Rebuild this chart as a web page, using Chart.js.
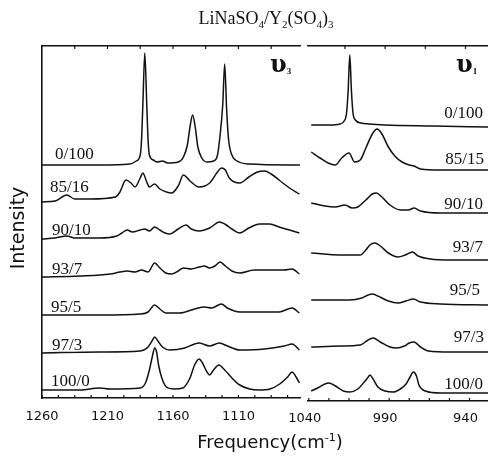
<!DOCTYPE html>
<html><head><meta charset="utf-8">
<script src="https://cdn.jsdelivr.net/npm/chart.js@4"></script>
<style>
html,body{margin:0;padding:0;background:#fff;width:488px;height:465px;overflow:hidden}
canvas{position:absolute;left:0;top:0}
</style>
</head><body>
<canvas id="a" width="488" height="465"></canvas>
<canvas id="b" width="488" height="465"></canvas>
<script>
// ---------- DATA ----------
const labelsV3 = ['0/100','85/16','90/10','93/7','95/5','97/3','100/0'];
const labelsV1 = ['0/100','85/15','90/10','93/7','95/5','97/3','100/0'];
const ticksV3 = [1260,1210,1160,1110];
const ticksV1 = [1040,990,940];
// stacking offsets of each spectrum (intensity units)
const offsetsV3 = [233,196,159,121,83,45,8];
const offsetsV1 = [276,231,188,141,96,49,8];
// [frequency cm-1, intensity above its own baseline]
const v3_0_100 = [[1260,0],[1216,0],[1193,1],[1188,4],[1185,10],[1184,25],[1183,60],[1181.5,112],[1180,60],[1179,25],[1178,10],[1175,5],[1172,3],[1168,4],[1164,2],[1156,3],[1152,8],[1149,20],[1147,38],[1145,50],[1143,38],[1141,18],[1138,7],[1134,3],[1129,4],[1126,10],[1124,30],[1122,60],[1120.5,101],[1119,55],[1117.5,25],[1115,10],[1111,4],[1102,1],[1063,0]];
const v3_85_16 = [[1260,0],[1250,1],[1241,7],[1235,3],[1223,3],[1204,5],[1200.5,10],[1196,22],[1192,19],[1189,15],[1185,24],[1183,29],[1180,20],[1178,15],[1174,18],[1170,13],[1165,10],[1161,9],[1156,16],[1152,27],[1147,21],[1140,15],[1132,19],[1126,30],[1123,34],[1120,32],[1117,24],[1109,19],[1102,25],[1095.5,30],[1090,31],[1085,28],[1079,22],[1071,14],[1063.5,8]];
const v3_90_10 = [[1260,0],[1250,1],[1241,3],[1235,1],[1216,1],[1203,3],[1199,6],[1195,9],[1191,7],[1185,9],[1181.5,10],[1178,8],[1174,12],[1170,9],[1166,6],[1162.5,5],[1156,10],[1150,14],[1146,10],[1140,8],[1132,11],[1124.5,17],[1120.5,15],[1115,10],[1109,6],[1102,11],[1094,15],[1086,15],[1079,12],[1071,9],[1063.5,6]];
const v3_93_7 = [[1260,0],[1231,1],[1208,3],[1200.5,5],[1195,6],[1189,5],[1184,7],[1179,5],[1174,14],[1170,9],[1165.5,4],[1161,3],[1156,6],[1152,9],[1146,8],[1140,10],[1136,11],[1132,9],[1128,11],[1124,15],[1120,11],[1115,6],[1109,4],[1098,7],[1086,7],[1075,7],[1069,8],[1063.5,3]];
const v3_95_5 = [[1260,0],[1216,0],[1185,1],[1179,3],[1174,10],[1170,6],[1165.5,2],[1155,2],[1143.5,6],[1136,8],[1130.5,7],[1123,11],[1118.5,7],[1109,3],[1094,3],[1079,3],[1069,7],[1063.5,2]];
const v3_97_3 = [[1260,0],[1216,1],[1185,2],[1179,6],[1176,12],[1174,16],[1171.5,12],[1168,6],[1162.5,3],[1151,5],[1143.5,9],[1140,10],[1132,7],[1124.5,10],[1118.5,7],[1109,3],[1090,4],[1075,7],[1069,9],[1063.5,3]];
const v3_100_0 = [[1260,0],[1231,0],[1216,2],[1208,1],[1185,2],[1181,7],[1178,20],[1175.5,35],[1174,42],[1172.5,38],[1171,25],[1168.5,12],[1165,3],[1159,1],[1152.5,2],[1147,12],[1143.5,25],[1140,31],[1137.5,27],[1134,18],[1132,15],[1129,20],[1125,25],[1120.5,20],[1115,12],[1109,5],[1101.5,1],[1094,0],[1086,1],[1078.5,6],[1072.5,13],[1069,18],[1066,13],[1063.5,7]];

const v1_0_100 = [[1036,0],[1025,0],[1018,1],[1015.5,4],[1014,12],[1013,35],[1012,70],[1011,35],[1010,12],[1008.5,5],[1005,2],[1000,1],[990,0],[960,-1],[926,-2]];
const v1_85_15 = [[1036,18],[1030.5,12],[1025.5,7],[1021,5],[1017,12],[1012.5,17],[1009,8],[1005.5,10],[1002,22],[998,36],[995,41],[992,36],[988,23],[984,14],[979.5,8],[975,5],[972,4],[968,1],[955.5,0],[926,0]];
const v1_90_10 = [[1036,10],[1027.5,7],[1021,6],[1015,8],[1010.5,5],[1007,6],[1002,13],[998,19],[995.5,20],[992,16],[987,8],[980.5,3],[975.5,3],[972,5],[968,2],[955.5,0],[926,0]];
const v1_93_7 = [[1036,7],[1018,5],[1005.5,5],[1002,10],[999.5,15],[996.5,17],[993,14],[988,7],[982,3],[977.5,5],[973,8],[969.5,4],[962,1],[949.5,0],[926,0]];
const v1_95_5 = [[1036,5],[1012,5],[1004.5,7],[1000.5,10],[998,11],[994.5,9],[988,4],[982,2],[977,4],[972.5,6],[968,3],[955.5,1],[926,0]];
const v1_97_3 = [[1036,5],[1018,6],[1005.5,7],[1001.5,11],[997.5,14],[993,10],[987,5],[983,4],[978,6],[975,9],[972,10],[968,5],[963,1],[949.5,0],[926,0]];
const v1_100_0 = [[1036,2],[1032,5],[1027.5,9],[1025,10],[1021,7],[1016,2],[1012,1],[1007,4],[1003,11],[1000.5,16],[999.5,18],[997.5,14],[994.5,6],[990,2],[985,1],[980.5,4],[977,9],[974.5,16],[972.5,21],[970.5,17],[969,8],[965,2],[955.5,0],[926,0]];

const seriesV3 = [v3_0_100,v3_85_16,v3_90_10,v3_93_7,v3_95_5,v3_97_3,v3_100_0];
const seriesV1 = [v1_0_100,v1_85_15,v1_90_10,v1_93_7,v1_95_5,v1_97_3,v1_100_0];

// ---------- STYLE ----------
const INK = '#111';
const SERIF = 'Liberation Serif, "DejaVu Serif", serif';
const SANS = '"DejaVu Sans", sans-serif';

function minorTicks(from, to, step){ const a=[]; for(let v=from; v>=to; v-=step) a.push(v); return a; }

function drawRich(ctx, t){
  ctx.save();
  ctx.textBaseline = 'alphabetic';
  ctx.fillStyle = INK;
  let w = 0;
  for (const p of t.parts){ ctx.font = p[1]; w += ctx.measureText(p[0]).width; }
  ctx.translate(t.x, t.y);
  if (t.rot) ctx.rotate(t.rot);
  let x0 = t.align === 'center' ? -w/2 : (t.align === 'right' ? -w : 0);
  ctx.textAlign = 'left';
  for (const p of t.parts){ ctx.font = p[1]; ctx.fillText(p[0], x0, p[2]||0); x0 += ctx.measureText(p[0]).width; }
  ctx.restore();
}

const deco = {
  id:'deco',
  afterDraw(chart, args, opts){
    const ctx = chart.ctx, xs = chart.scales.x, a = chart.chartArea;
    ctx.save();
    ctx.strokeStyle = INK; ctx.lineWidth = 1.2;
    for (const v of opts.bottomTicks){
      const px = xs.getPixelForValue(v); if (px < a.left-0.5 || px > a.right+0.5) continue;
      ctx.beginPath(); ctx.moveTo(px, a.bottom); ctx.lineTo(px, a.bottom-3); ctx.stroke();
    }
    for (const v of opts.topTicks){
      const px = xs.getPixelForValue(v); if (px < a.left-0.5 || px > a.right+0.5) continue;
      ctx.beginPath(); ctx.moveTo(px, a.top); ctx.lineTo(px, a.top+3); ctx.stroke();
    }
    ctx.restore();
    for (const t of opts.texts) drawRich(ctx, t);
  }
};

function lbl(text, x, y, align){ return {x, y, align, parts:[[text, '17px '+SERIF]]}; }

function datasets(series, offsets, labels){
  return series.map((s,i)=>({
    label: labels[i],
    data: s.map(p=>({x:p[0], y:p[1]+offsets[i]})),
    borderColor: INK, borderWidth: 1.5, pointRadius: 0, fill: false,
    cubicInterpolationMode: 'monotone'
  }));
}

function hiddenScale(extra){
  return Object.assign({ticks:{display:false}, grid:{display:false, drawTicks:false},
    border:{display:true, color:INK, width:1.6}}, extra);
}

const tickFont = {family:'DejaVu Sans', size:13};
const plainNum = v => String(v);

// ---------- LEFT PANEL (v3) ----------
new Chart(document.getElementById('a'), {
  type:'line',
  data:{datasets: datasets(seriesV3, offsetsV3, labelsV3)},
  options:{
    responsive:false, animation:false, devicePixelRatio:1,
    layout:{padding:{left:42, right:188, top:46, bottom:0}},
    plugins:{legend:{display:false}, tooltip:{enabled:false},
      deco:{
        bottomTicks: minorTicks(1260, 1063, 12.5),
        topTicks: minorTicks(1235, 1063, 25),
        texts:[
          {x:266, y:24, align:'center', parts:[
            ['LiNaSO','18px '+SERIF],['4','11px '+SERIF,4],['/Y','18px '+SERIF],['2','11px '+SERIF,4],
            ['(SO','18px '+SERIF],['4','11px '+SERIF,4],[')','18px '+SERIF],['3','11px '+SERIF,4]]},
          {x:270, y:72, align:'left', parts:[['υ','bold 24px "DejaVu Serif", serif'],['3','bold 9px '+SERIF,2]]},
          lbl(labelsV3[0], 55, 159, 'left'),
          lbl(labelsV3[1], 50, 192, 'left'),
          lbl(labelsV3[2], 52, 234.5, 'left'),
          lbl(labelsV3[3], 52, 273.5, 'left'),
          lbl(labelsV3[4], 51, 312, 'left'),
          lbl(labelsV3[5], 52, 349.5, 'left'),
          lbl(labelsV3[6], 51, 385.5, 'left'),
          {x:270, y:448, align:'center', parts:[['Frequency(cm','18px '+SANS],['-1','11px '+SANS,-7],[')','18px '+SANS]]},
          {x:24, y:228, align:'center', rot:-Math.PI/2, parts:[['Intensity','19px '+SANS]]}
        ]
      }
    },
    scales:{
      x:{type:'linear', position:'bottom', reverse:true, min:1063, max:1260,
        afterBuildTicks:s=>{ s.ticks = ticksV3.map(v=>({value:v})); },
        afterFit:s=>{ s.height = 67; },
        ticks:{autoSkip:false, maxRotation:0, padding:11, color:INK, font:tickFont, callback:plainNum},
        grid:{display:false, drawTicks:false},
        border:{display:true, color:INK, width:1.6}},
      xTop: hiddenScale({type:'linear', position:'top', reverse:true, min:1063, max:1260, afterFit:s=>{s.height=0;}}),
      y: hiddenScale({type:'linear', position:'left', min:0, max:352, afterFit:s=>{s.width=0;}})
    }
  },
  plugins:[deco]
});

// ---------- RIGHT PANEL (v1) ----------
new Chart(document.getElementById('b'), {
  type:'line',
  data:{datasets: datasets(seriesV1, offsetsV1, labelsV1)},
  options:{
    responsive:false, animation:false, devicePixelRatio:1,
    layout:{padding:{left:308, right:0, top:46, bottom:0}},
    plugins:{legend:{display:false}, tooltip:{enabled:false},
      deco:{
        bottomTicks: minorTicks(1037.5, 926, 12.5),
        topTicks: [1015, 990, 965, 940],
        texts:[
          {x:456, y:72, align:'left', parts:[['υ','bold 24px "DejaVu Serif", serif'],['1','bold 9px '+SERIF,2]]},
          lbl(labelsV1[0], 483, 117.5, 'right'),
          lbl(labelsV1[1], 484, 163.5, 'right'),
          lbl(labelsV1[2], 483, 208.5, 'right'),
          lbl(labelsV1[3], 483, 251.5, 'right'),
          lbl(labelsV1[4], 480, 294.5, 'right'),
          lbl(labelsV1[5], 484, 341.5, 'right'),
          lbl(labelsV1[6], 483, 388.5, 'right')
        ]
      }
    },
    scales:{
      x:{type:'linear', position:'bottom', reverse:true, min:926, max:1038,
        afterBuildTicks:s=>{ s.ticks = ticksV1.map(v=>({value:v})); },
        afterFit:s=>{ s.height = 64; },
        ticks:{autoSkip:false, maxRotation:0, padding:10, color:INK, font:tickFont, callback:plainNum},
        grid:{display:false, drawTicks:false},
        border:{display:true, color:INK, width:1.6}},
      xTop: hiddenScale({type:'linear', position:'top', reverse:true, min:926, max:1038, afterFit:s=>{s.height=0;}}),
      y:{type:'linear', display:false, min:0, max:355}
    }
  },
  plugins:[deco]
});
</script>
</body></html>
